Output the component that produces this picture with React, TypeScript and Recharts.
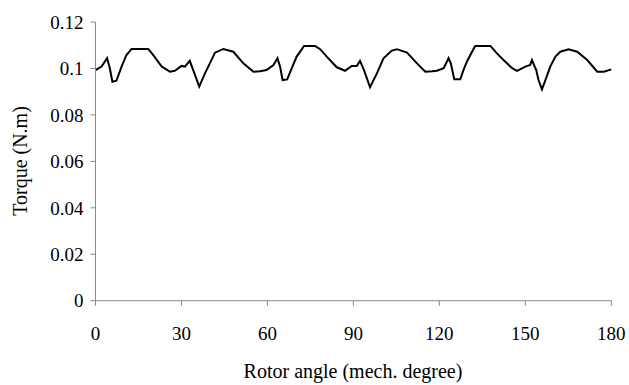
import React from 'react';
import { LineChart, Line, XAxis, YAxis } from 'recharts';

const angles = [
  0, 2.1, 4.05, 5.0, 5.9, 7.3, 9.1, 10.8, 12.6, 18.4, 20.1, 23.1, 26.0, 27.7, 30.0, 31.2, 32.9, 34.1,
  36.2, 38.2, 39.9, 41.7, 44.6, 48.1, 51.6, 55.1, 57.4, 59.7, 62.1, 63.5, 64.4, 65.3, 66.9, 68.5,
  70.2, 72.8, 76.6, 78.4, 80.7, 84.2, 87.1, 89.4, 91.2, 92.3, 93.7, 95.8, 98.2, 100.5, 103.4, 105.2,
  108.7, 112.2, 115.1, 117.5, 119.1, 121.5, 123.2, 124.0, 125.2, 127.3, 128.4, 129.6, 131.4, 132.5,
  137.8, 140.1, 142.4, 145.4, 147.1, 150.0, 151.7, 152.3, 153.8, 154.6, 155.8, 157.0, 158.7, 160.5,
  162.2, 165.1, 168.1, 171.6, 175.1, 177.4, 180,
];

const torque = [
  0.0993, 0.1008, 0.1044, 0.1001, 0.0943, 0.0947, 0.1008, 0.1058, 0.1084, 0.1084, 0.1058, 0.1008, 0.0986, 0.099, 0.1011, 0.1008, 0.1033, 0.0993,
  0.0922, 0.0979, 0.1022, 0.1068, 0.1084, 0.1072, 0.1022, 0.0986, 0.0988, 0.0993, 0.1015, 0.1044, 0.1008, 0.095, 0.0953, 0.1001,
  0.1051, 0.1097, 0.1097, 0.1083, 0.1051, 0.1005, 0.099, 0.1011, 0.1011, 0.1033, 0.0993, 0.0919, 0.0979, 0.1044, 0.1077, 0.1083,
  0.1068, 0.1022, 0.0986, 0.0988, 0.099, 0.1001, 0.1044, 0.1022, 0.0953, 0.0953, 0.0993, 0.1029, 0.1072, 0.1097,
  0.1097, 0.1065, 0.1036, 0.1001, 0.099, 0.1008, 0.1015, 0.1036, 0.0993, 0.095, 0.091, 0.095, 0.1008, 0.1051,
  0.1072, 0.1083, 0.1072, 0.1036, 0.0986, 0.0986, 0.0996,
];

const xTicks = [0, 30, 60, 90, 120, 150, 180];
const yTicks = [0, 0.02, 0.04, 0.06, 0.08, 0.1, 0.12];
const yTickLabels = ['0', '0.02', '0.04', '0.06', '0.08', '0.1', '0.12'];

const xTitle = 'Rotor angle (mech. degree)';
const yTitle = 'Torque (N.m)';

const data = angles.map((a, i) => ({ angle: a, torque: torque[i] }));

const FONT = '"Liberation Serif", "Times New Roman", serif';
const AXIS = '#888888';

export default function App() {
  return (
    <div style={{ position: 'absolute', left: 0, top: 0, width: 629, height: 385, background: '#fff' }}>
      <LineChart
        width={629}
        height={385}
        data={data}
        margin={{ top: 22, right: 17.7, bottom: 34.3, left: 15.5 }}
      >
        <XAxis
          dataKey="angle"
          type="number"
          domain={[0, 180]}
          ticks={xTicks}
          interval={0}
          stroke={AXIS}
          tickSize={5}
          tickMargin={21}
          height={50}
          tick={{ fill: '#000', fontFamily: FONT, fontSize: 19 }}
          label={{
            content: () => (
              <text x={353} y={378} textAnchor="middle" fontFamily={FONT} fontSize={20} fill="#000">
                {xTitle}
              </text>
            ),
          }}
        />
        <YAxis
          type="number"
          domain={[0, 0.12]}
          ticks={yTicks}
          interval={0}
          stroke={AXIS}
          tickSize={5}
          tickMargin={7}
          width={80}
          tickFormatter={(v: number) => {
            const i = yTicks.findIndex((t) => Math.abs(t - v) < 1e-9);
            return i >= 0 ? yTickLabels[i] : String(v);
          }}
          tick={{ fill: '#000', fontFamily: FONT, fontSize: 19 }}
          label={{
            content: () => (
              <text
                x={20}
                y={161}
                transform="rotate(-90, 20, 161)"
                textAnchor="middle"
                dominantBaseline="central"
                fontFamily={FONT}
                fontSize={20}
                fill="#000"
              >
                {yTitle}
              </text>
            ),
          }}
        />
        <Line
          dataKey="torque"
          type="linear"
          stroke="#000"
          strokeWidth={2}
          dot={false}
          isAnimationActive={false}
        />
      </LineChart>
    </div>
  );
}
